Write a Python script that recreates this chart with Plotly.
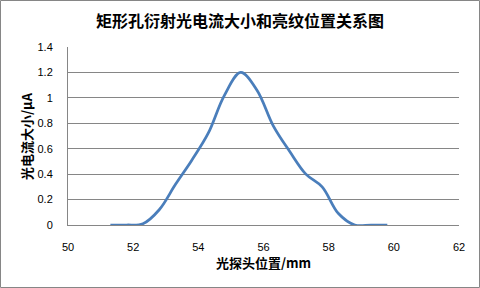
import plotly.graph_objects as go

# Data
position_mm = [51.3, 51.8, 52.3, 52.8, 53.3, 53.8, 54.3, 54.8, 55.3,
               55.8, 56.3, 56.8, 57.3, 57.8, 58.3, 58.8, 59.3, 59.8]
current_uA = [0, 0, 0.01, 0.12, 0.32, 0.51, 0.72, 1.02, 1.2,
              1.06, 0.78, 0.58, 0.40, 0.30, 0.09, 0, 0, 0]
x_ticks = [50, 52, 54, 56, 58, 60, 62]
y_ticks = [0, 0.2, 0.4, 0.6, 0.8, 1.0, 1.2, 1.4]
y_tick_text = ["0", "0.2", "0.4", "0.6", "0.8", "1", "1.2", "1.4"]

title_text = "矩形孔衍射光电流大小和亮纹位置关系图"
x_title = "光探头位置/mm"
y_title = "光电流大小/μA"

W, H = 480, 288
ML, MR, MT, MB = 68, 21, 47, 63
PW, PH = W - ML - MR, H - MT - MB

cjk = "Noto Sans CJK SC, SimSun, sans-serif"
num = "Liberation Sans, Arial, sans-serif"

fig = go.Figure()
fig.add_trace(go.Scatter(
    x=position_mm, y=current_uA, mode="lines",
    line=dict(color="#4a7ebb", width=2.75, shape="spline", smoothing=1),
    hoverinfo="x+y", showlegend=False,
))

fig.update_layout(
    width=W, height=H,
    margin=dict(l=ML, r=MR, t=MT, b=MB, pad=0),
    paper_bgcolor="white", plot_bgcolor="white",
    xaxis=dict(
        range=[50, 62], tickvals=x_ticks, showgrid=False, zeroline=False,
        showline=True, linecolor="#868686", linewidth=1,
        ticks="", tickfont=dict(family=num, size=11, color="black"),
        ticklabelstandoff=12,
    ),
    yaxis=dict(
        range=[0, 1.4], tickvals=y_ticks, ticktext=y_tick_text,
        showgrid=True, gridcolor="#868686", gridwidth=1, zeroline=False,
        showline=True, linecolor="#868686", linewidth=1,
        ticks="", tickfont=dict(family=num, size=11, color="black"),
        ticklabelstandoff=12,
    ),
    title=dict(
        text=title_text, x=240 / W, xref="container",
        y=1 - 21 / H, yref="container", xanchor="center", yanchor="middle",
        font=dict(family=cjk, size=16, color="black", weight="bold"),
    ),
    annotations=[
        dict(text=x_title, xref="paper", yref="paper",
             x=0.5, y=(225 - 262) / PH, xanchor="center", yanchor="middle",
             showarrow=False,
             font=dict(family=cjk, size=13, color="black", weight="bold")),
        dict(text=y_title, xref="paper", yref="paper",
             x=(26 - ML) / PW, y=0.5, xanchor="center", yanchor="middle",
             textangle=-90, showarrow=False,
             font=dict(family=cjk, size=13, color="black", weight="bold")),
    ],
    shapes=[
        dict(type="rect", xref="paper", yref="paper",
             x0=(0.5 - ML) / PW, x1=(W - 0.5 - ML) / PW,
             y0=(225 - (H - 0.5)) / PH, y1=(225 - 0.5) / PH,
             line=dict(color="#868686", width=1), fillcolor="rgba(0,0,0,0)",
             layer="below"),
    ],
)

fig.write_html("out.html")
